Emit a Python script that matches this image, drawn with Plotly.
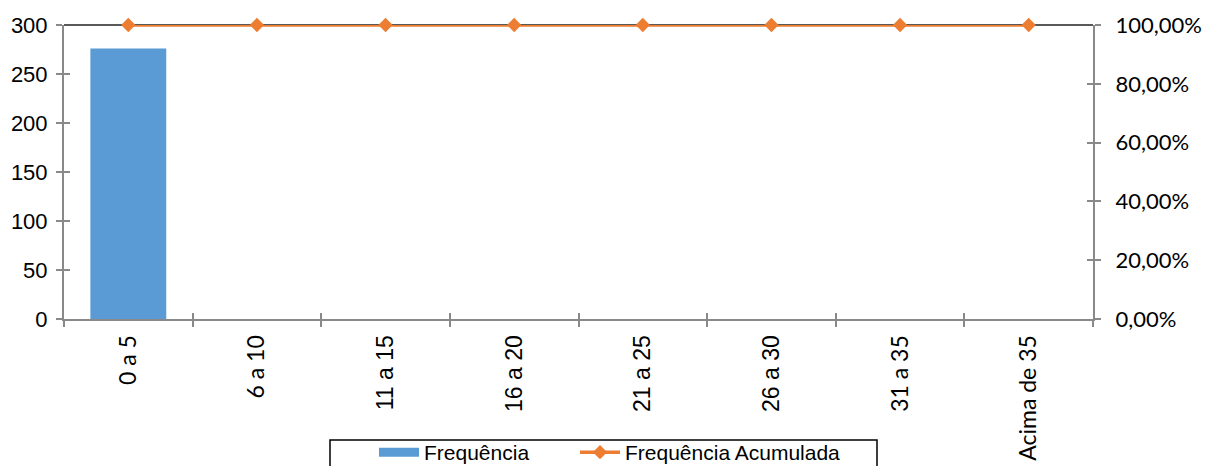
import plotly.graph_objects as go

categories = ["0 a 5", "6 a 10", "11 a 15", "16 a 20", "21 a 25", "26 a 30", "31 a 35", "Acima de 35"]
calibri_like = [True, True, False, False, False, False, True, True]
frequencia = [276, 0, 0, 0, 0, 0, 0, 0]
freq_acumulada = [1.0, 1.0, 1.0, 1.0, 1.0, 1.0, 1.0, 1.0]

ARIAL = "Liberation Sans, Arial, sans-serif"
CALIBRI = "Lato, Carlito, Calibri, sans-serif"

ticktext = [
    (f'<span style="font-family:{CALIBRI}">{c}</span>' if cal else c)
    for c, cal in zip(categories, calibri_like)
]

BAR_COL = "#5B9BD5"
LINE_COL = "#ED7D31"
axis_col = "#898989"

fig = go.Figure()
fig.add_trace(go.Bar(
    x=categories, y=frequencia, name="Frequência",
    marker=dict(color=BAR_COL, line=dict(width=0)),
    width=0.59, yaxis="y", showlegend=False,
))
# legend entry for the bars (wide rectangle swatch like the reference)
fig.add_trace(go.Scatter(
    x=[categories[0]], y=[None], name="Frequência", mode="lines",
    line=dict(color=BAR_COL, width=9), hoverinfo="skip", showlegend=True,
    legend="legend",
))
fig.add_trace(go.Scatter(
    x=categories, y=freq_acumulada, name="Frequência Acumulada",
    mode="lines+markers", yaxis="y2", cliponaxis=False,
    line=dict(color=LINE_COL, width=3.5),
    marker=dict(symbol="diamond", size=11, color=LINE_COL),
    legend="legend2",
))

legend_common = dict(
    orientation="h", xanchor="left", y=(319 - 432) / 294, yanchor="top",
    borderwidth=0, bgcolor="rgba(0,0,0,0)",
    font=dict(family=ARIAL, size=21), itemwidth=40,
)

fig.update_layout(
    width=1212, height=466,
    margin=dict(l=56, r=127, t=17, b=155, autoexpand=False),
    paper_bgcolor="white", plot_bgcolor="white",
    separators=",.",
    font=dict(family=ARIAL, size=20, color="black"),
    showlegend=True,
    legend=dict(legend_common, x=(374 - 64) / 1029),
    legend2=dict(legend_common, x=(575 - 64) / 1029),
    xaxis=dict(
        type="category", tickmode="array", tickvals=categories, ticktext=ticktext,
        tickangle=-90, showgrid=False, showline=True, linecolor=axis_col, linewidth=2,
        ticks="outside", ticklen=6, tickcolor=axis_col, tickwidth=1.5,
        tickson="boundaries", tickfont=dict(size=23), zeroline=False,
        range=[-0.5, 7.5], ticklabelstandoff=5,
    ),
    xaxis2=dict(
        type="category", overlaying="x", matches="x", showticklabels=False,
        showgrid=False, showline=False, ticks="inside", ticklen=6, tickcolor=axis_col,
        tickwidth=1.5, tickson="boundaries", tickvals=categories, tickmode="array",
        anchor="y", side="bottom",
    ),
    yaxis=dict(
        range=[0, 300], tick0=0, dtick=50, showgrid=False, showline=True,
        linecolor=axis_col, linewidth=2, ticks="outside", ticklen=6,
        tickcolor=axis_col, tickwidth=1.5, zeroline=False,
        tickfont=dict(family=ARIAL, size=22), ticklabelstandoff=4,
    ),
    yaxis3=dict(
        range=[0, 300], tick0=0, dtick=50, overlaying="y", showticklabels=False,
        showgrid=False, ticks="inside", ticklen=6, tickcolor=axis_col, tickwidth=1.5,
        zeroline=False, side="left", anchor="x",
    ),
    yaxis2=dict(
        range=[0, 1], tick0=0, dtick=0.2, tickformat=".2%", overlaying="y",
        side="right", showgrid=False, showline=True, linecolor=axis_col, linewidth=2,
        ticks="outside", ticklen=6, tickcolor=axis_col, tickwidth=1.5, zeroline=False,
        tickfont=dict(family=CALIBRI, size=22), anchor="x", ticklabelstandoff=10,
    ),
    yaxis4=dict(
        range=[0, 1], tick0=0, dtick=0.2, overlaying="y", side="right",
        showticklabels=False, showgrid=False, ticks="inside", ticklen=6,
        tickcolor=axis_col, tickwidth=1.5, zeroline=False, anchor="x",
    ),
    shapes=[
        dict(type="line", xref="paper", yref="paper", x0=0, x1=1, y0=1, y1=1,
             line=dict(color="#595959", width=2), layer="below"),
        # legend frame
        dict(type="rect", xref="paper", yref="paper",
             x0=(330 - 64) / 1029, x1=(877 - 64) / 1029,
             y0=(319 - 440) / 294, y1=(319 - 500) / 294,
             line=dict(color="black", width=1.5), fillcolor="rgba(0,0,0,0)",
             layer="below"),
    ],
)

# invisible helper traces so the overlay axes (crossing tick marks) are drawn
fig.add_trace(go.Scatter(x=categories, y=[None]*8, xaxis="x2", yaxis="y3",
                         showlegend=False, hoverinfo="skip"))
fig.add_trace(go.Scatter(x=categories, y=[None]*8, xaxis="x", yaxis="y4",
                         showlegend=False, hoverinfo="skip"))

fig.write_html("out.html")
